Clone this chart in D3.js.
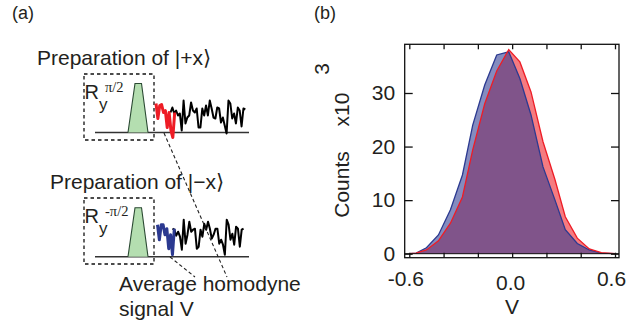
<!DOCTYPE html>
<html>
<head>
<meta charset="utf-8">
<script src="https://cdn.jsdelivr.net/npm/d3@7"></script>
<style>
  body { margin: 0; background: #fff; }
  text { font-family: "Liberation Sans", Arial, sans-serif; fill: #231f20; }
</style>
</head>
<body>
<div id="chart"></div>
<script>
// histogram (b)
const binV = [-0.6, -0.56, -0.5, -0.43, -0.36, -0.29, -0.23, -0.16, -0.09, -0.02, 0.045, 0.11, 0.18, 0.25, 0.31, 0.38, 0.45, 0.52, 0.6];
const countsMinus = [0, 0.1, 1.1, 3.5, 8.2, 14.7, 24, 31.5, 37.1, 37.7, 32.7, 25.9, 16.2, 10, 4.5, 1.9, 0.7, 0.1, 0];
const countsPlus = [0, 0.1, 0.7, 2.4, 5.7, 10.6, 19.4, 28, 34.1, 38.1, 35.8, 30.2, 20.9, 13.8, 6.9, 2.9, 0.9, 0.2, 0];
const xTicks = [-0.6, -0.4, -0.2, 0, 0.2, 0.4, 0.6];
const xLabels = ["-0.6", "", "", "0.0", "", "", "0.6"];
const yTicks = [0, 10, 20, 30];

// homodyne traces (a), heights above the baseline
const plusAvg = [29, 14, 27, 28, 20, 22, 5, 20, 2, -5, 20];
const plusRest = [20, 25, 19, 22, 17, 19, 2, 32, 9, 15, 17, 30, 22, 20, 24, 5, 5, 24, 17, 27, 17, 32, 24, 15, 14, 25, 24, 10, 15, 7, -1, 32, 29, 14, 19, 9, 25, 22, 6, 24, 23];
const minusAvg = [32, 17, 32, 32, 22, 28, 8, 22, 2, 28];
const minusRest = [28, 27, 21, 25, 20, 7, 37, 13, 22, 35, 25, 27, 28, 8, 10, 27, 20, 33, 27, 35, 28, 18, 22, 28, 28, 13, 17, 12, 2, 37, 32, 17, 23, 12, 30, 28, 10, 27, 28];

const width = 644;
const height = 324;
const labelSize = "21px";

const svg = d3.select("#chart")
  .append("svg")
  .attr("width", width)
  .attr("height", height)
  .style("display", "block");

// ---------- panel (b) ----------
const frame = {left: 404.7, right: 619, top: 44.3, bottom: 257.7};

const xScale = d3.scaleLinear().domain([-0.6, 0.6]).range([409.3, 615]);
const yScale = d3.scaleLinear().domain([0, 30]).range([253.7, 93]);

const area = d3.area()
  .x((d, i) => xScale(binV[i]))
  .y0(yScale(0))
  .y1(d => yScale(d));
const outline = d3.line()
  .x((d, i) => xScale(binV[i]))
  .y(d => yScale(d));

svg.append("path").attr("d", area(countsPlus)).attr("fill", "#ee1c25").attr("fill-opacity", 0.58);
svg.append("path").attr("d", area(countsMinus)).attr("fill", "#2b3990").attr("fill-opacity", 0.58);
svg.append("path").attr("d", outline(countsMinus)).attr("fill", "none").attr("stroke", "#2b3990").attr("stroke-width", 1.3);
svg.append("path").attr("d", outline(countsPlus)).attr("fill", "none").attr("stroke", "#ee1c25").attr("stroke-width", 1.3);

svg.append("rect")
  .attr("x", frame.left)
  .attr("y", frame.top)
  .attr("width", frame.right - frame.left)
  .attr("height", frame.bottom - frame.top)
  .attr("fill", "none")
  .attr("stroke", "#111")
  .attr("stroke-width", 1.3);

svg.append("line")
  .attr("x1", frame.left).attr("x2", frame.right)
  .attr("y1", yScale(0)).attr("y2", yScale(0))
  .attr("stroke", "#111").attr("stroke-width", 1);

// axes
const xAxis = svg.append("g")
  .attr("transform", `translate(0,${frame.bottom})`)
  .call(d3.axisBottom(xScale).tickValues(xTicks).tickSize(-5).tickPadding(13).tickFormat((d, i) => xLabels[i]));
const xAxisTop = svg.append("g")
  .attr("transform", `translate(0,${frame.top})`)
  .call(d3.axisTop(xScale).tickValues(xTicks).tickSize(-5).tickFormat(""));
const yAxis = svg.append("g")
  .attr("transform", `translate(${frame.left},0)`)
  .call(d3.axisLeft(yScale).tickValues(yTicks).tickSize(-8).tickPadding(9.5));
const yAxisRight = svg.append("g")
  .attr("transform", `translate(${frame.right},0)`)
  .call(d3.axisRight(yScale).tickValues(yTicks).tickSize(-8).tickFormat(""));

[xAxis, xAxisTop, yAxis, yAxisRight].forEach(function(g) {
  g.select(".domain").remove();
  g.selectAll("line").attr("stroke", "#111").attr("stroke-width", 1.3);
  g.selectAll("text").style("font-family", '"Liberation Sans", Arial, sans-serif').style("font-size", labelSize).attr("fill", "#231f20");
});
xAxis.selectAll("text").attr("dx", function(d) { return d === 0 ? -2 : -4; }).attr("dy", function(d) { return d === 0 ? "0.9em" : "0.71em"; });

svg.append("text").attr("x", 512).attr("y", 314).attr("text-anchor", "middle").style("font-size", labelSize).text("V");

function vertical(label, x, y) {
  svg.append("text")
    .attr("transform", `translate(${x},${y}) rotate(-90)`)
    .attr("text-anchor", "middle")
    .style("font-size", labelSize)
    .text(label);
}
vertical("Counts", 349, 184.5);
vertical("x10", 349, 109.5);
vertical("3", 329, 69);

// ---------- panel (a) ----------
svg.append("text").attr("x", 12).attr("y", 19).style("font-size", "18px").text("(a)");
svg.append("text").attr("x", 314).attr("y", 19).style("font-size", "18px").text("(b)");

const traceY = 132.5;
const traceYb = 256.7;
const sigScale = d3.scaleLinear().domain([0, 1]).range([0, -1]);
const stepPx = 1.87;

function trace(values, x0, base, color, w) {
  const line = d3.line()
    .x((d, i) => x0 + i * stepPx)
    .y(d => base + sigScale(d));
  svg.append("path").attr("d", line(values))
    .attr("fill", "none").attr("stroke", color).attr("stroke-width", w).attr("stroke-linejoin", "round");
}

function pulseBlock(boxTop, boxBottom, base, pulseTop, sup, supX) {
  svg.append("rect")
    .attr("x", 84).attr("y", boxTop).attr("width", 70).attr("height", boxBottom - boxTop)
    .attr("fill", "none").attr("stroke", "#111").attr("stroke-width", 1.3).attr("stroke-dasharray", "3.5 3");
  svg.append("line")
    .attr("x1", 95).attr("x2", 249).attr("y1", base).attr("y2", base)
    .attr("stroke", "#333").attr("stroke-width", 1.4);
  svg.append("path")
    .attr("d", d3.line()([[128, base], [135, pulseTop], [141.5, pulseTop], [148, base]]))
    .attr("fill", "#b4deb0").attr("stroke", "#2b4a33").attr("stroke-width", 1.1);
  svg.append("text").attr("x", 84.5).attr("y", boxTop + 25).style("font-size", "20px").text("R");
  svg.append("text").attr("x", 99).attr("y", boxTop + 36).style("font-size", "17px").text("y");
  svg.append("text").attr("x", supX).attr("y", boxTop + 18)
    .style("font-family", '"Liberation Serif", serif').style("font-size", "14.5px").text(sup);
}

pulseBlock(74, 140, traceY, 83.5, "π/2", 105);
pulseBlock(198, 264, traceYb, 207.7, "-π/2", 105);

trace(plusRest, 170.5, traceY, "#000", 2);
trace(plusAvg, 156, traceY, "#ee1c25", 3);
trace(minusRest, 172.5, traceYb, "#000", 2);
trace(minusAvg, 157.5, traceYb, "#2b3990", 3);

// leaders
svg.append("path").attr("d", d3.line()([[164, 133], [227, 277]]))
  .attr("stroke", "#222").attr("stroke-width", 1.1).attr("stroke-dasharray", "3.5 2.5").attr("fill", "none");
svg.append("path").attr("d", d3.line()([[170, 257], [195, 277]]))
  .attr("stroke", "#222").attr("stroke-width", 1.1).attr("stroke-dasharray", "3.5 2.5").attr("fill", "none");

svg.append("text").attr("x", 37).attr("y", 65).style("font-size", labelSize).text("Preparation of |+x⟩");
svg.append("text").attr("x", 50).attr("y", 189).style("font-size", labelSize).text("Preparation of |−x⟩");
svg.append("text").attr("x", 119).attr("y", 291).style("font-size", labelSize).text("Average homodyne");
svg.append("text").attr("x", 119).attr("y", 316).style("font-size", labelSize).text("signal V");
</script>
</body>
</html>
